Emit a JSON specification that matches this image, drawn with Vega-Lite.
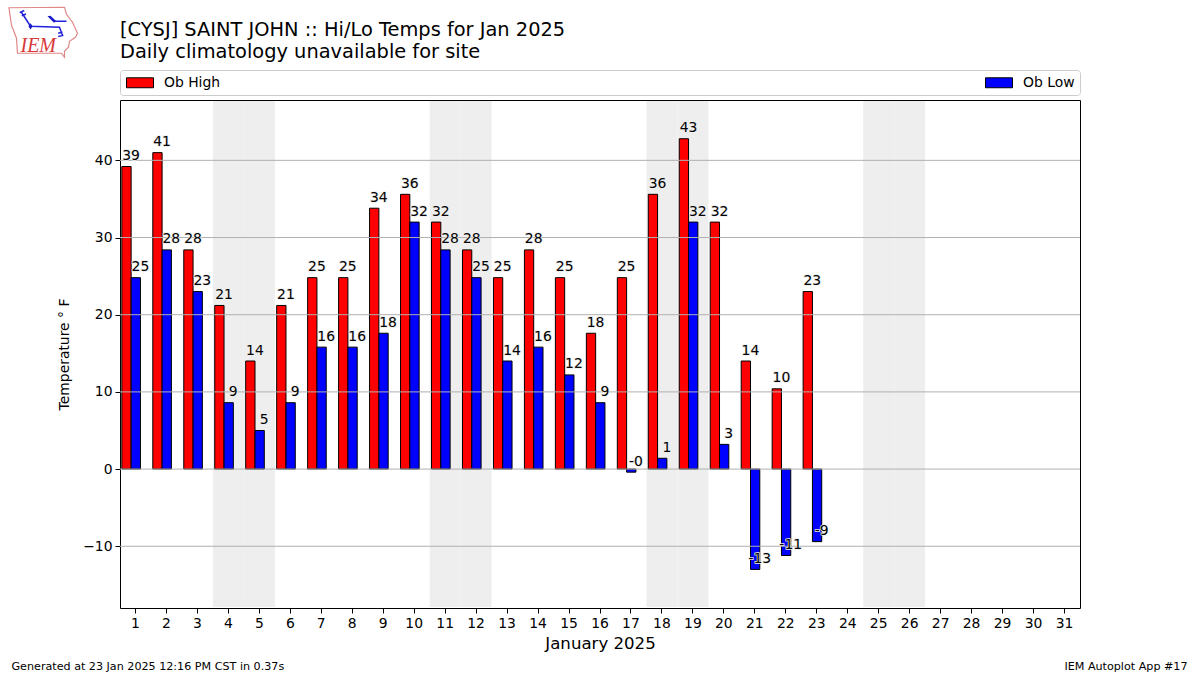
{
"$schema":"https://vega.github.io/schema/vega-lite/v6.json",
"width":960,"height":508,
"autosize":{"type":"none"},
"padding":{"left":120,"top":100,"right":120,"bottom":67},
"background":"white",
"config":{"font":"DejaVu Sans","view":{"stroke":"black","strokeWidth":1}},
"title":{"text":["[CYSJ] SAINT JOHN :: Hi/Lo Temps for Jan 2025","Daily climatology unavailable for site"],"anchor":"start","frame":"group","font":"DejaVu Sans","fontSize":19.4,"fontWeight":"normal","color":"black","lineHeight":22,"offset":-58},
"datasets":{
"temps":[
{"day":1,"series":"Ob High","temp":39.2,"label":"39"},{"day":2,"series":"Ob High","temp":41,"label":"41"},{"day":3,"series":"Ob High","temp":28.4,"label":"28"},{"day":4,"series":"Ob High","temp":21.2,"label":"21"},{"day":5,"series":"Ob High","temp":14,"label":"14"},{"day":6,"series":"Ob High","temp":21.2,"label":"21"},{"day":7,"series":"Ob High","temp":24.8,"label":"25"},{"day":8,"series":"Ob High","temp":24.8,"label":"25"},{"day":9,"series":"Ob High","temp":33.8,"label":"34"},{"day":10,"series":"Ob High","temp":35.6,"label":"36"},{"day":11,"series":"Ob High","temp":32,"label":"32"},{"day":12,"series":"Ob High","temp":28.4,"label":"28"},{"day":13,"series":"Ob High","temp":24.8,"label":"25"},{"day":14,"series":"Ob High","temp":28.4,"label":"28"},{"day":15,"series":"Ob High","temp":24.8,"label":"25"},{"day":16,"series":"Ob High","temp":17.6,"label":"18"},{"day":17,"series":"Ob High","temp":24.8,"label":"25"},{"day":18,"series":"Ob High","temp":35.6,"label":"36"},{"day":19,"series":"Ob High","temp":42.8,"label":"43"},{"day":20,"series":"Ob High","temp":32,"label":"32"},{"day":21,"series":"Ob High","temp":14,"label":"14"},{"day":22,"series":"Ob High","temp":10.4,"label":"10"},{"day":23,"series":"Ob High","temp":23,"label":"23"},
{"day":1,"series":"Ob Low","temp":24.8,"label":"25"},{"day":2,"series":"Ob Low","temp":28.4,"label":"28"},{"day":3,"series":"Ob Low","temp":23,"label":"23"},{"day":4,"series":"Ob Low","temp":8.6,"label":"9"},{"day":5,"series":"Ob Low","temp":5,"label":"5"},{"day":6,"series":"Ob Low","temp":8.6,"label":"9"},{"day":7,"series":"Ob Low","temp":15.8,"label":"16"},{"day":8,"series":"Ob Low","temp":15.8,"label":"16"},{"day":9,"series":"Ob Low","temp":17.6,"label":"18"},{"day":10,"series":"Ob Low","temp":32,"label":"32"},{"day":11,"series":"Ob Low","temp":28.4,"label":"28"},{"day":12,"series":"Ob Low","temp":24.8,"label":"25"},{"day":13,"series":"Ob Low","temp":14,"label":"14"},{"day":14,"series":"Ob Low","temp":15.8,"label":"16"},{"day":15,"series":"Ob Low","temp":12.2,"label":"12"},{"day":16,"series":"Ob Low","temp":8.6,"label":"9"},{"day":17,"series":"Ob Low","temp":-0.4,"label":"-0"},{"day":18,"series":"Ob Low","temp":1.4,"label":"1"},{"day":19,"series":"Ob Low","temp":32,"label":"32"},{"day":20,"series":"Ob Low","temp":3.2,"label":"3"},{"day":21,"series":"Ob Low","temp":-13,"label":"-13"},{"day":22,"series":"Ob Low","temp":-11.2,"label":"-11"},{"day":23,"series":"Ob Low","temp":-9.4,"label":"-9"}
],
"weekend":[{"day":4},{"day":5},{"day":11},{"day":12},{"day":18},{"day":19},{"day":25},{"day":26}],
"grid":[{"t":-10},{"t":0},{"t":10},{"t":20},{"t":30},{"t":40}],
"footer":[{"day":1,"t":-25.6,"note":"Generated at 23 Jan 2025 12:16 PM CST in 0.37s"}],
"footerRight":[{"day":31,"t":-25.6,"note":"IEM Autoplot App #17"}],
"logo":[{"day":1,"t":56.6}],
"logoText":[{"day":1,"t":54.1,"note":"IEM"}]
},
"data":{"name":"temps"},
"encoding":{
"x":{"field":"day","type":"ordinal","scale":{"domain":[1,2,3,4,5,6,7,8,9,10,11,12,13,14,15,16,17,18,19,20,21,22,23,24,25,26,27,28,29,30,31],"paddingInner":0,"paddingOuter":0},
"axis":{"title":"January 2025","titleFontSize":16.6,"titleFontWeight":"normal","titleColor":"black","titlePadding":6,"labelAngle":0,"labelFontSize":13.9,"labelColor":"black","tickColor":"black","tickSize":5,"domain":false,"labelPadding":3,"grid":false}},
"y":{"type":"quantitative","scale":{"domain":[-18,47.82],"nice":false,"zero":false}}
},
"layer":[
{"data":{"name":"weekend"},"mark":{"type":"rect","color":"#eeeeee"},"encoding":{"y":{"value":1},"y2":{"value":507}}},
{"transform":[{"filter":"datum.series==='Ob High'"}],"mark":{"type":"bar","width":9.3,"xOffset":-9,"stroke":"black","strokeWidth":1},
"encoding":{"y":{"field":"temp","type":"quantitative","stack":null,"scale":{"domain":[-18,47.82],"nice":false,"zero":false},
"axis":{"title":"Temperature ° F","titleFontSize":13.9,"titleFontWeight":"normal","titleColor":"black","values":[-10,0,10,20,30,40],"labelExpr":"replace(datum.label,'-','−')","labelFontSize":13.9,"labelColor":"black","tickColor":"black","tickSize":5,"domain":false,"grid":false,"labelPadding":3,"titlePadding":11}},
"y2":{"datum":0},
"color":{"field":"series","type":"nominal","scale":{"domain":["Ob High","Ob Low"],"range":["#ff0000","#0000ff"]},
"legend":{"title":null,"orient":"none","direction":"horizontal","columns":2,"legendX":0,"legendY":-30,"columnPadding":762,"symbolType":"M-0.857,-0.71H3V0.71H-0.857Z","symbolSize":196,"symbolStrokeColor":"black","symbolStrokeWidth":1,"symbolOpacity":1,"labelFontSize":13.9,"labelColor":"black","labelOffset":24,"fillColor":"white","strokeColor":"#cccccc","cornerRadius":3,"padding":5}}}},
{"transform":[{"filter":"datum.series==='Ob Low'"}],"mark":{"type":"bar","width":9.3,"xOffset":0.3,"stroke":"black","strokeWidth":1},
"encoding":{"y":{"field":"temp","type":"quantitative","stack":null},"y2":{"datum":0},"color":{"field":"series","type":"nominal"}}},
{"data":{"name":"grid"},"mark":{"type":"rule","color":"#b0b0b0","strokeWidth":1},"encoding":{"x":{"value":0},"x2":{"value":960},"y":{"field":"t","type":"quantitative"}}},
{"transform":[{"filter":"datum.series==='Ob High'"}],"mark":{"type":"text","align":"center","baseline":"alphabetic","dx":-4.4,"dy":-6.5,"fontSize":13.9,"stroke":"#eeeeee","strokeWidth":1.5,"strokeOpacity":1},"encoding":{"y":{"field":"temp","type":"quantitative"},"text":{"field":"label","type":"nominal"}}},
{"transform":[{"filter":"datum.series==='Ob Low'"}],"mark":{"type":"text","align":"center","baseline":"alphabetic","dx":4.9,"dy":-6.5,"fontSize":13.9,"stroke":"#eeeeee","strokeWidth":1.5,"strokeOpacity":1},"encoding":{"y":{"field":"temp","type":"quantitative"},"text":{"field":"label","type":"nominal"}}},
{"transform":[{"filter":"datum.series==='Ob High'"}],"mark":{"type":"text","align":"center","baseline":"alphabetic","dx":-4.4,"dy":-6.5,"fontSize":13.9,"color":"black"},"encoding":{"y":{"field":"temp","type":"quantitative"},"text":{"field":"label","type":"nominal"}}},
{"transform":[{"filter":"datum.series==='Ob Low'"}],"mark":{"type":"text","align":"center","baseline":"alphabetic","dx":4.9,"dy":-6.5,"fontSize":13.9,"color":"black"},"encoding":{"y":{"field":"temp","type":"quantitative"},"text":{"field":"label","type":"nominal"}}},
{"data":{"name":"footer"},"mark":{"type":"text","align":"left","baseline":"middle","dx":-124,"fontSize":11.15,"color":"black"},"encoding":{"y":{"field":"t","type":"quantitative"},"text":{"field":"note","type":"nominal"}}},
{"data":{"name":"footerRight"},"mark":{"type":"text","align":"right","baseline":"middle","dx":123,"fontSize":11.15,"color":"black"},"encoding":{"y":{"field":"t","type":"quantitative"},"text":{"field":"note","type":"nominal"}}},
{"data":{"name":"logo"},"mark":{"type":"point","xOffset":-92,"filled":false,"size":4900,"shape":"M-0.986,-0.7L0.6,-0.714L0.657,-0.514L0.829,-0.286L0.971,0.029L0.914,0.143L0.743,0.257L0.714,0.429L0.6,0.543L0.6,0.714L0.514,0.6L-0.743,0.6L-0.771,0.171L-0.914,-0.2Z","stroke":"#e08888","strokeWidth":1.2,"opacity":1},"encoding":{"y":{"field":"t","type":"quantitative"}}},
{"data":{"name":"logo"},"mark":{"type":"point","xOffset":-92,"filled":false,"size":4900,"shape":"M-0.629,-0.571L-0.371,-0.171L0.457,-0.143L0.543,0.086M0.314,-0.314L0.657,-0.314M-0.68,-0.56L-0.55,-0.62M-0.62,-0.47L-0.5,-0.52M0.54,0L0.42,0.03M0.57,0.09L0.42,0.12","stroke":"#2222dd","strokeWidth":1.5,"opacity":1},"encoding":{"y":{"field":"t","type":"quantitative"}}},
{"data":{"name":"logo"},"mark":{"type":"point","xOffset":-92,"filled":true,"size":4900,"shape":"M0.114,-0.457L0.2,-0.47L0.36,-0.32L0.3,-0.27ZM-0.43,-0.17L-0.37,-0.26L-0.31,-0.17L-0.37,-0.08Z","color":"#1a1acc","opacity":1},"encoding":{"y":{"field":"t","type":"quantitative"}}},
{"data":{"name":"logoText"},"mark":{"type":"text","align":"left","baseline":"alphabetic","dx":-115,"dy":0,"font":"Liberation Serif","fontStyle":"italic","fontSize":20,"color":"#d83a3a"},"encoding":{"y":{"field":"t","type":"quantitative"},"text":{"field":"note","type":"nominal"}}}
]
}
